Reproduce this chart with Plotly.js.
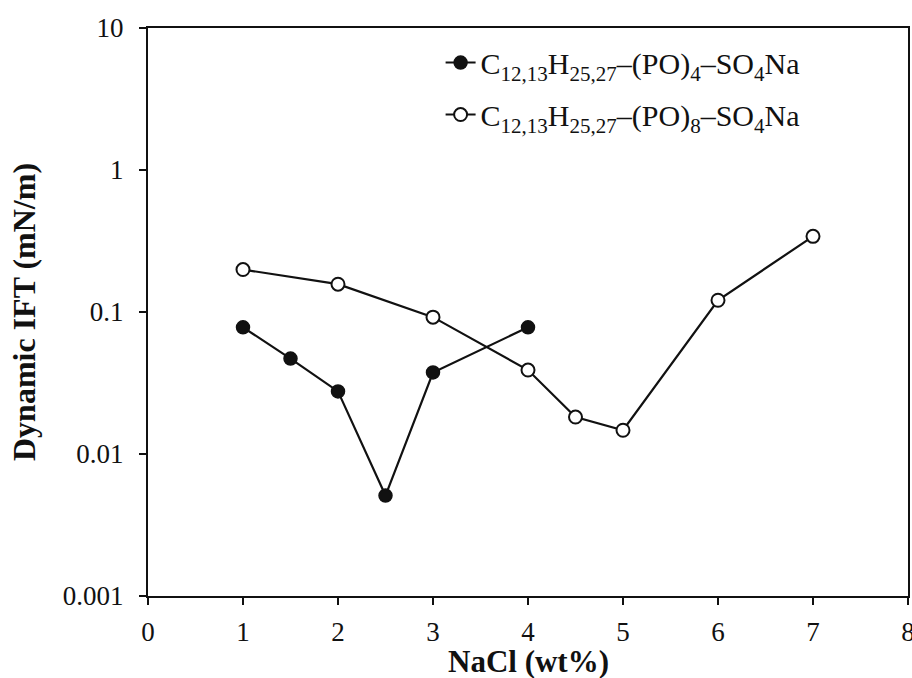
<!DOCTYPE html>
<html>
<head>
<meta charset="utf-8">
<script src="https://cdn.plot.ly/plotly-3.0.1.min.js"></script>
<style>html,body{margin:0;padding:0;background:#fff;}#chart{width:912px;height:678px;}</style>
</head>
<body>
<div id="chart"></div>
<script>
// NaCl concentration (wt%) and dynamic IFT (mN/m) for two surfactants
const naclPO4 = [1, 1.5, 2, 2.5, 3, 4];
const iftPO4 = [0.078, 0.047, 0.0276, 0.0051, 0.0375, 0.078];
const naclPO8 = [1, 2, 3, 4, 4.5, 5, 6, 7];
const iftPO8 = [0.199, 0.157, 0.092, 0.039, 0.0182, 0.0147, 0.121, 0.341];
const namePO4 = 'C<sub>12,13</sub>H<sub>25,27</sub>–(PO)<sub>4</sub>–SO<sub>4</sub>Na';
const namePO8 = 'C<sub>12,13</sub>H<sub>25,27</sub>–(PO)<sub>8</sub>–SO<sub>4</sub>Na';
const yTickVals = [0.001, 0.01, 0.1, 1, 10];
const yTickText = ['0.001', '0.01', '0.1', '1', '10'];
const xTickVals = [0, 1, 2, 3, 4, 5, 6, 7, 8];
const xTitle = '<b>NaCl (wt%)</b>';
const yTitle = '<b>Dynamic IFT (mN/m)</b>';

const serif = 'Liberation Serif, Times New Roman, serif';

const traces = [
  {
    x: naclPO4, y: iftPO4, name: namePO4, legendgroup: 'po4', type: 'scatter', mode: 'lines+markers',
    line: {color: '#111', width: 2.2},
    marker: {symbol: 'circle', size: 13, color: '#111', line: {color: '#111', width: 1.5}}
  },
  {
    x: naclPO8, y: iftPO8, name: namePO8, legendgroup: 'po8', type: 'scatter', mode: 'lines+markers',
    line: {color: '#111', width: 2.2},
    marker: {symbol: 'circle', size: 13, color: '#fff', line: {color: '#111', width: 2}}
  }
];

const layout = {
  width: 912, height: 678,
  paper_bgcolor: '#fff', plot_bgcolor: '#fff',
  margin: {l: 148, r: 4, t: 28, b: 82},
  font: {family: serif, color: '#111', size: 27},
  showlegend: true,
  legend: {
    x: 0.385, y: 0.985, xanchor: 'left', yanchor: 'top',
    bgcolor: 'rgba(0,0,0,0)', borderwidth: 0,
    font: {family: serif, size: 30, color: '#111'},
    tracegroupgap: 10
  },
  xaxis: {
    range: [0, 8], tickvals: xTickVals, ticktext: xTickVals.map(String),
    showgrid: false, zeroline: false, automargin: false,
    showline: true, linecolor: '#111', linewidth: 2, mirror: true,
    ticks: 'outside', ticklen: 7, tickwidth: 1.5, tickcolor: '#111',
    ticklabeloverflow: 'allow', ticklabelstandoff: 4,
    tickfont: {family: serif, size: 27, color: '#111'}
  },
  yaxis: {
    type: 'log', range: [-3, 1], tickvals: yTickVals, ticktext: yTickText,
    showgrid: false, zeroline: false, automargin: false,
    showline: true, linecolor: '#111', linewidth: 2, mirror: true,
    ticks: 'outside', ticklen: 7, tickwidth: 1.5, tickcolor: '#111',
    ticklabelstandoff: 10,
    tickfont: {family: serif, size: 27, color: '#111'},
    title: {text: yTitle, font: {family: serif, size: 32, color: '#111'}, standoff: 18}
  },
  // x-axis title placed as a paper annotation so it can sit lower under the tick labels
  annotations: [{
    text: xTitle, xref: 'paper', yref: 'paper', x: 0.5, y: 0,
    xanchor: 'center', yanchor: 'top', yshift: -46, showarrow: false,
    font: {family: serif, size: 31, color: '#111'}
  }]
};

Plotly.newPlot('chart', traces, layout, {displayModeBar: false, staticPlot: true});
</script>
</body>
</html>
